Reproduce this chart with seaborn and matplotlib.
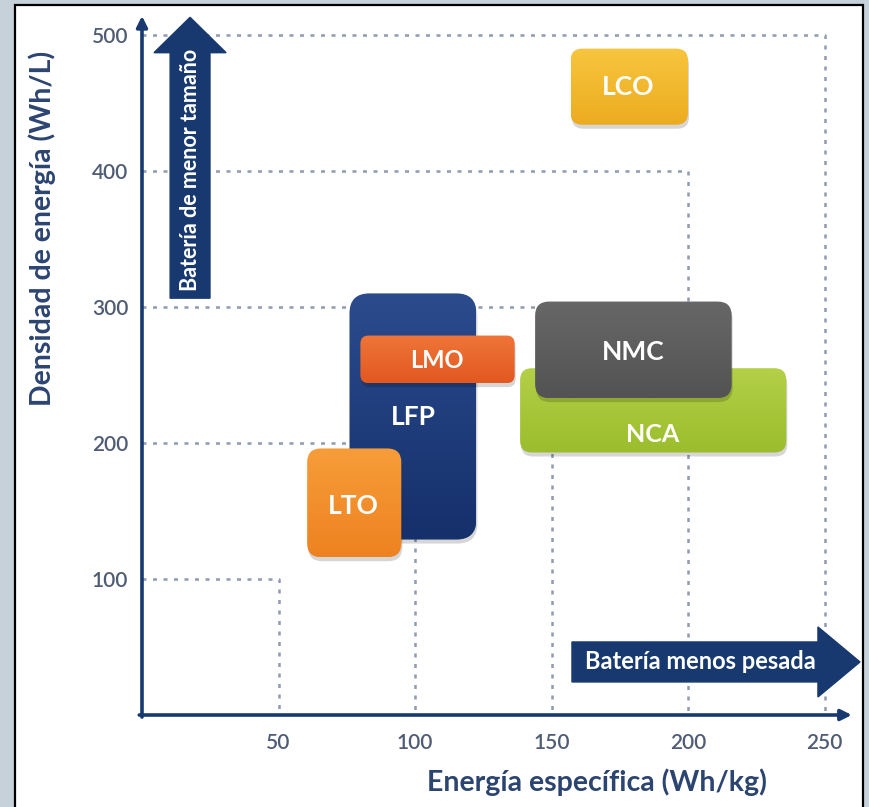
import numpy as np
import pandas as pd
import matplotlib
matplotlib.use("Agg")
import matplotlib.pyplot as plt
from matplotlib.patches import FancyBboxPatch, FancyArrow, Rectangle
from matplotlib.colors import to_rgb
import seaborn as sns

# ---- data -------------------------------------------------------------
chemistries = ["NCA", "NMC", "LFP", "LMO", "LTO", "LCO"]
energy_min = [138.5, 144.0, 76.0, 80.0, 60.5, 157.0]     # Wh/kg
energy_max = [236.0, 216.0, 122.5, 136.5, 95.0, 200.0]   # Wh/kg
density_min = [193.0, 233.0, 129.0, 244.0, 116.0, 434.0]  # Wh/L
density_max = [255.0, 304.0, 310.0, 279.0, 196.0, 490.0]  # Wh/L
label_x = [187.0, 180.0, 99.5, 108.0, 77.5, 178.0]
label_y = [206.0, 267.0, 219.0, 261.0, 154.0, 462.0]

grid_energy = [50, 100, 150, 200, 250]
grid_density = [100, 200, 300, 400, 500]
x_ticks = [50, 100, 150, 200, 250]
y_ticks = [100, 200, 300, 400, 500]

# ---- styles -----------------------------------------------------------
top_colors = ["#B3D047", "#676767", "#2B4B8D", "#EF7538", "#F69D39", "#F7C53E"]
bottom_colors = ["#9BBD2D", "#535353", "#15306B", "#E25821", "#EE8220", "#ECAC20"]
corner_px = [12, 14, 20, 8, 14, 12]
label_size = [18, 19, 19, 17, 19, 19]

NAVY = "#17396F"
AXIS_TXT = "#2C4470"
TICK_TXT = "#4F5C74"
GRID = "#8E9BB0"

sns.set_theme(style="white")
plt.rcParams["font.family"] = ["Lato", "DejaVu Sans"]

W, H = 869, 807
fig = plt.figure(figsize=(W / 100, H / 100), dpi=100)
fig.patch.set_facecolor("#C7D1D9")

# white panel with black frame
fig.add_artist(Rectangle((15 / W, -0.02), (863 - 15) / W, 1 - 5 / H + 0.02,
                         transform=fig.transFigure, facecolor="white",
                         edgecolor="black", linewidth=1.6, zorder=0))

# axes: origin at (142, 715) px
XMAX, YMAX = 265.0, 522.0
XS, YS = 2.73, 1.36  # px per data unit
left_px, bottom_px = 142, 715
ax = fig.add_axes([left_px / W, (H - bottom_px) / H,
                   XMAX * XS / W, YMAX * YS / H])
ax.set_facecolor("none")
ax.patch.set_visible(False)
for s in ax.spines.values():
    s.set_visible(False)

# dotted nested guides
rows = []
for gx, gy in zip(grid_energy, grid_density):
    for px, py in [(0, gy), (gx, gy), (gx, 0)]:
        rows.append({"level": gx, "x": px, "y": py})
guides = pd.DataFrame(rows)
sns.lineplot(data=guides, x="x", y="y", units="level", estimator=None,
             sort=False, color=GRID, linewidth=1.8, linestyle=(0, (1.6, 2.6)),
             ax=ax, zorder=1, legend=False)

# rounded boxes with vertical gradient
for i, name in enumerate(chemistries):
    x0, x1 = energy_min[i], energy_max[i]
    y0, y1 = density_min[i], density_max[i]
    z = 3 + i
    r = corner_px[i] / XS
    style = f"round,pad=0,rounding_size={r}"
    shadow = FancyBboxPatch((x0 + 1.0 / XS, y0 - 4.0 / YS), x1 - x0, y1 - y0,
                            boxstyle=style, mutation_aspect=XS / YS,
                            facecolor="black", edgecolor="none", alpha=0.16,
                            zorder=z - 0.5, clip_on=False)
    ax.add_patch(shadow)
    box = FancyBboxPatch((x0, y0), x1 - x0, y1 - y0, boxstyle=style,
                         mutation_aspect=XS / YS, facecolor="none",
                         edgecolor="none", zorder=z, clip_on=False)
    ax.add_patch(box)
    g = np.linspace(0, 1, 64)[:, None]
    c = np.array(to_rgb(top_colors[i])) * (1 - g) + np.array(to_rgb(bottom_colors[i])) * g
    im = ax.imshow(c.reshape(64, 1, 3), extent=[x0, x1, y0, y1], origin="upper",
                   aspect="auto", interpolation="bilinear", zorder=z)
    im.set_clip_path(box)
    ax.text(label_x[i], label_y[i], name, color="white", fontsize=label_size[i],
            fontweight="bold", ha="center", va="center", zorder=z + 0.2)

# axis lines with arrow tips
ax.annotate("", xy=(0, 514), xytext=(0, -1.5),
            arrowprops=dict(arrowstyle="-|>", color=NAVY, lw=2.6,
                            mutation_scale=16, shrinkA=0, shrinkB=0), zorder=2)
ax.annotate("", xy=(260, 0), xytext=(-1.0, 0),
            arrowprops=dict(arrowstyle="-|>", color=NAVY, lw=2.6,
                            mutation_scale=16, shrinkA=0, shrinkB=0), zorder=2)

# big direction arrows
ax.add_patch(FancyArrow(17.6, 306.5, 0, 513 - 306.5, width=14.6, head_width=26.4,
                        head_length=26.0, length_includes_head=True,
                        color=NAVY, zorder=10, clip_on=False))
ax.text(17.6, 401, "Batería de menor tamaño", rotation=90, color="white",
        fontsize=15.5, fontweight="bold", ha="center", va="center", zorder=11)
ax.add_patch(FancyArrow(157.5, 39, 263 - 157.5, 0, width=29.4, head_width=51.5,
                        head_length=15.4, length_includes_head=True,
                        color=NAVY, zorder=10, clip_on=False))
ax.text(204.5, 39, "Batería menos pesada", color="white", fontsize=17,
        fontweight="bold", ha="center", va="center", zorder=11)

ax.set_xlim(0, XMAX)
ax.set_ylim(0, YMAX)
ax.set_xticks(x_ticks)
ax.set_yticks(y_ticks)
ax.set_xticklabels([str(v) for v in x_ticks])
ax.set_yticklabels([str(v) for v in y_ticks])
ax.tick_params(axis="both", length=0, labelsize=15, labelcolor=TICK_TXT)
ax.tick_params(axis="x", pad=13)
ax.tick_params(axis="y", pad=10)
for lab in ax.get_xticklabels() + ax.get_yticklabels():
    lab.set_fontweight("semibold")
ax.set_xlabel("")
ax.set_ylabel("")

fig.text(597 / W, 1 - 782 / H, "Energía específica (Wh/kg)", color=AXIS_TXT,
         fontsize=20.5, fontweight="bold", ha="center", va="center")
fig.text(42 / W, 1 - 228 / H, "Densidad de energía (Wh/L)", color=AXIS_TXT,
         fontsize=20.5, fontweight="bold", ha="center", va="center", rotation=90)

fig.savefig("out.png", dpi=100, facecolor=fig.get_facecolor())
